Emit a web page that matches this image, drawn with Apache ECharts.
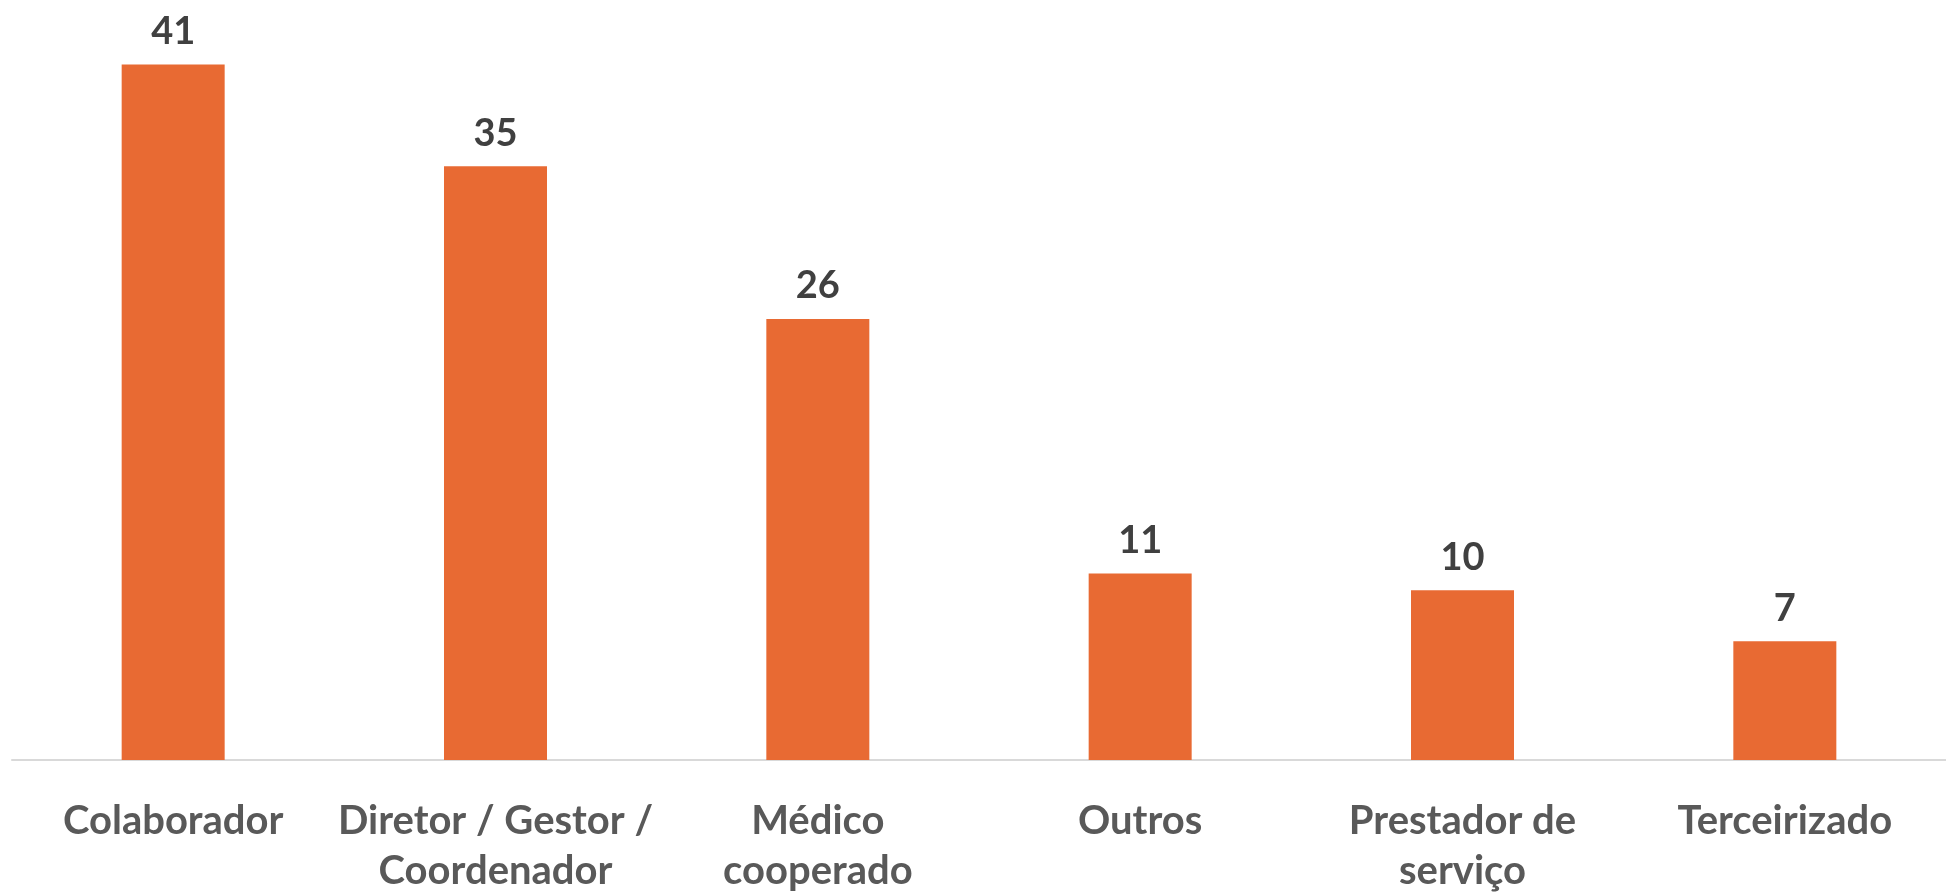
<!DOCTYPE html>
<html>
<head>
<meta charset="utf-8">
<script src="https://cdn.jsdelivr.net/npm/echarts@6/dist/echarts.min.js"></script>
<style>
html,body{margin:0;padding:0;background:#fff;}
#chart{width:1946px;height:896px;}
</style>
</head>
<body>
<div id="chart"></div>
<script>
const categories = ["Colaborador", "Diretor / Gestor /\nCoordenador", "Médico\ncooperado", "Outros", "Prestador de\nserviço", "Terceirizado"];
const values = [41, 35, 26, 11, 10, 7];

const chart = echarts.init(document.getElementById('chart'), null, {renderer: 'canvas'});
chart.setOption({
  animation: false,
  grid: {left: 12, top: 13.6, bottom: 128, width: 1951, containLabel: false},
  xAxis: {
    type: 'category',
    data: categories,
    axisLine: {show: true, lineStyle: {color: '#D9D9D9', width: 2}},
    axisTick: {show: false},
    axisLabel: {
      interval: 0,
      margin: 36,
      color: '#595959',
      fontFamily: 'Lato',
      fontWeight: 'bold',
      fontSize: 40,
      lineHeight: 50
    }
  },
  yAxis: {
    type: 'value',
    min: 0,
    max: 44,
    show: false,
    splitLine: {show: false}
  },
  series: [{
    type: 'bar',
    data: values,
    barWidth: 103,
    itemStyle: {color: '#E86A33'},
    label: {
      show: true,
      position: 'top',
      distance: 14,
      color: '#404040',
      fontFamily: 'Lato',
      fontWeight: 'bold',
      fontSize: 38
    }
  }]
});
</script>
</body>
</html>
